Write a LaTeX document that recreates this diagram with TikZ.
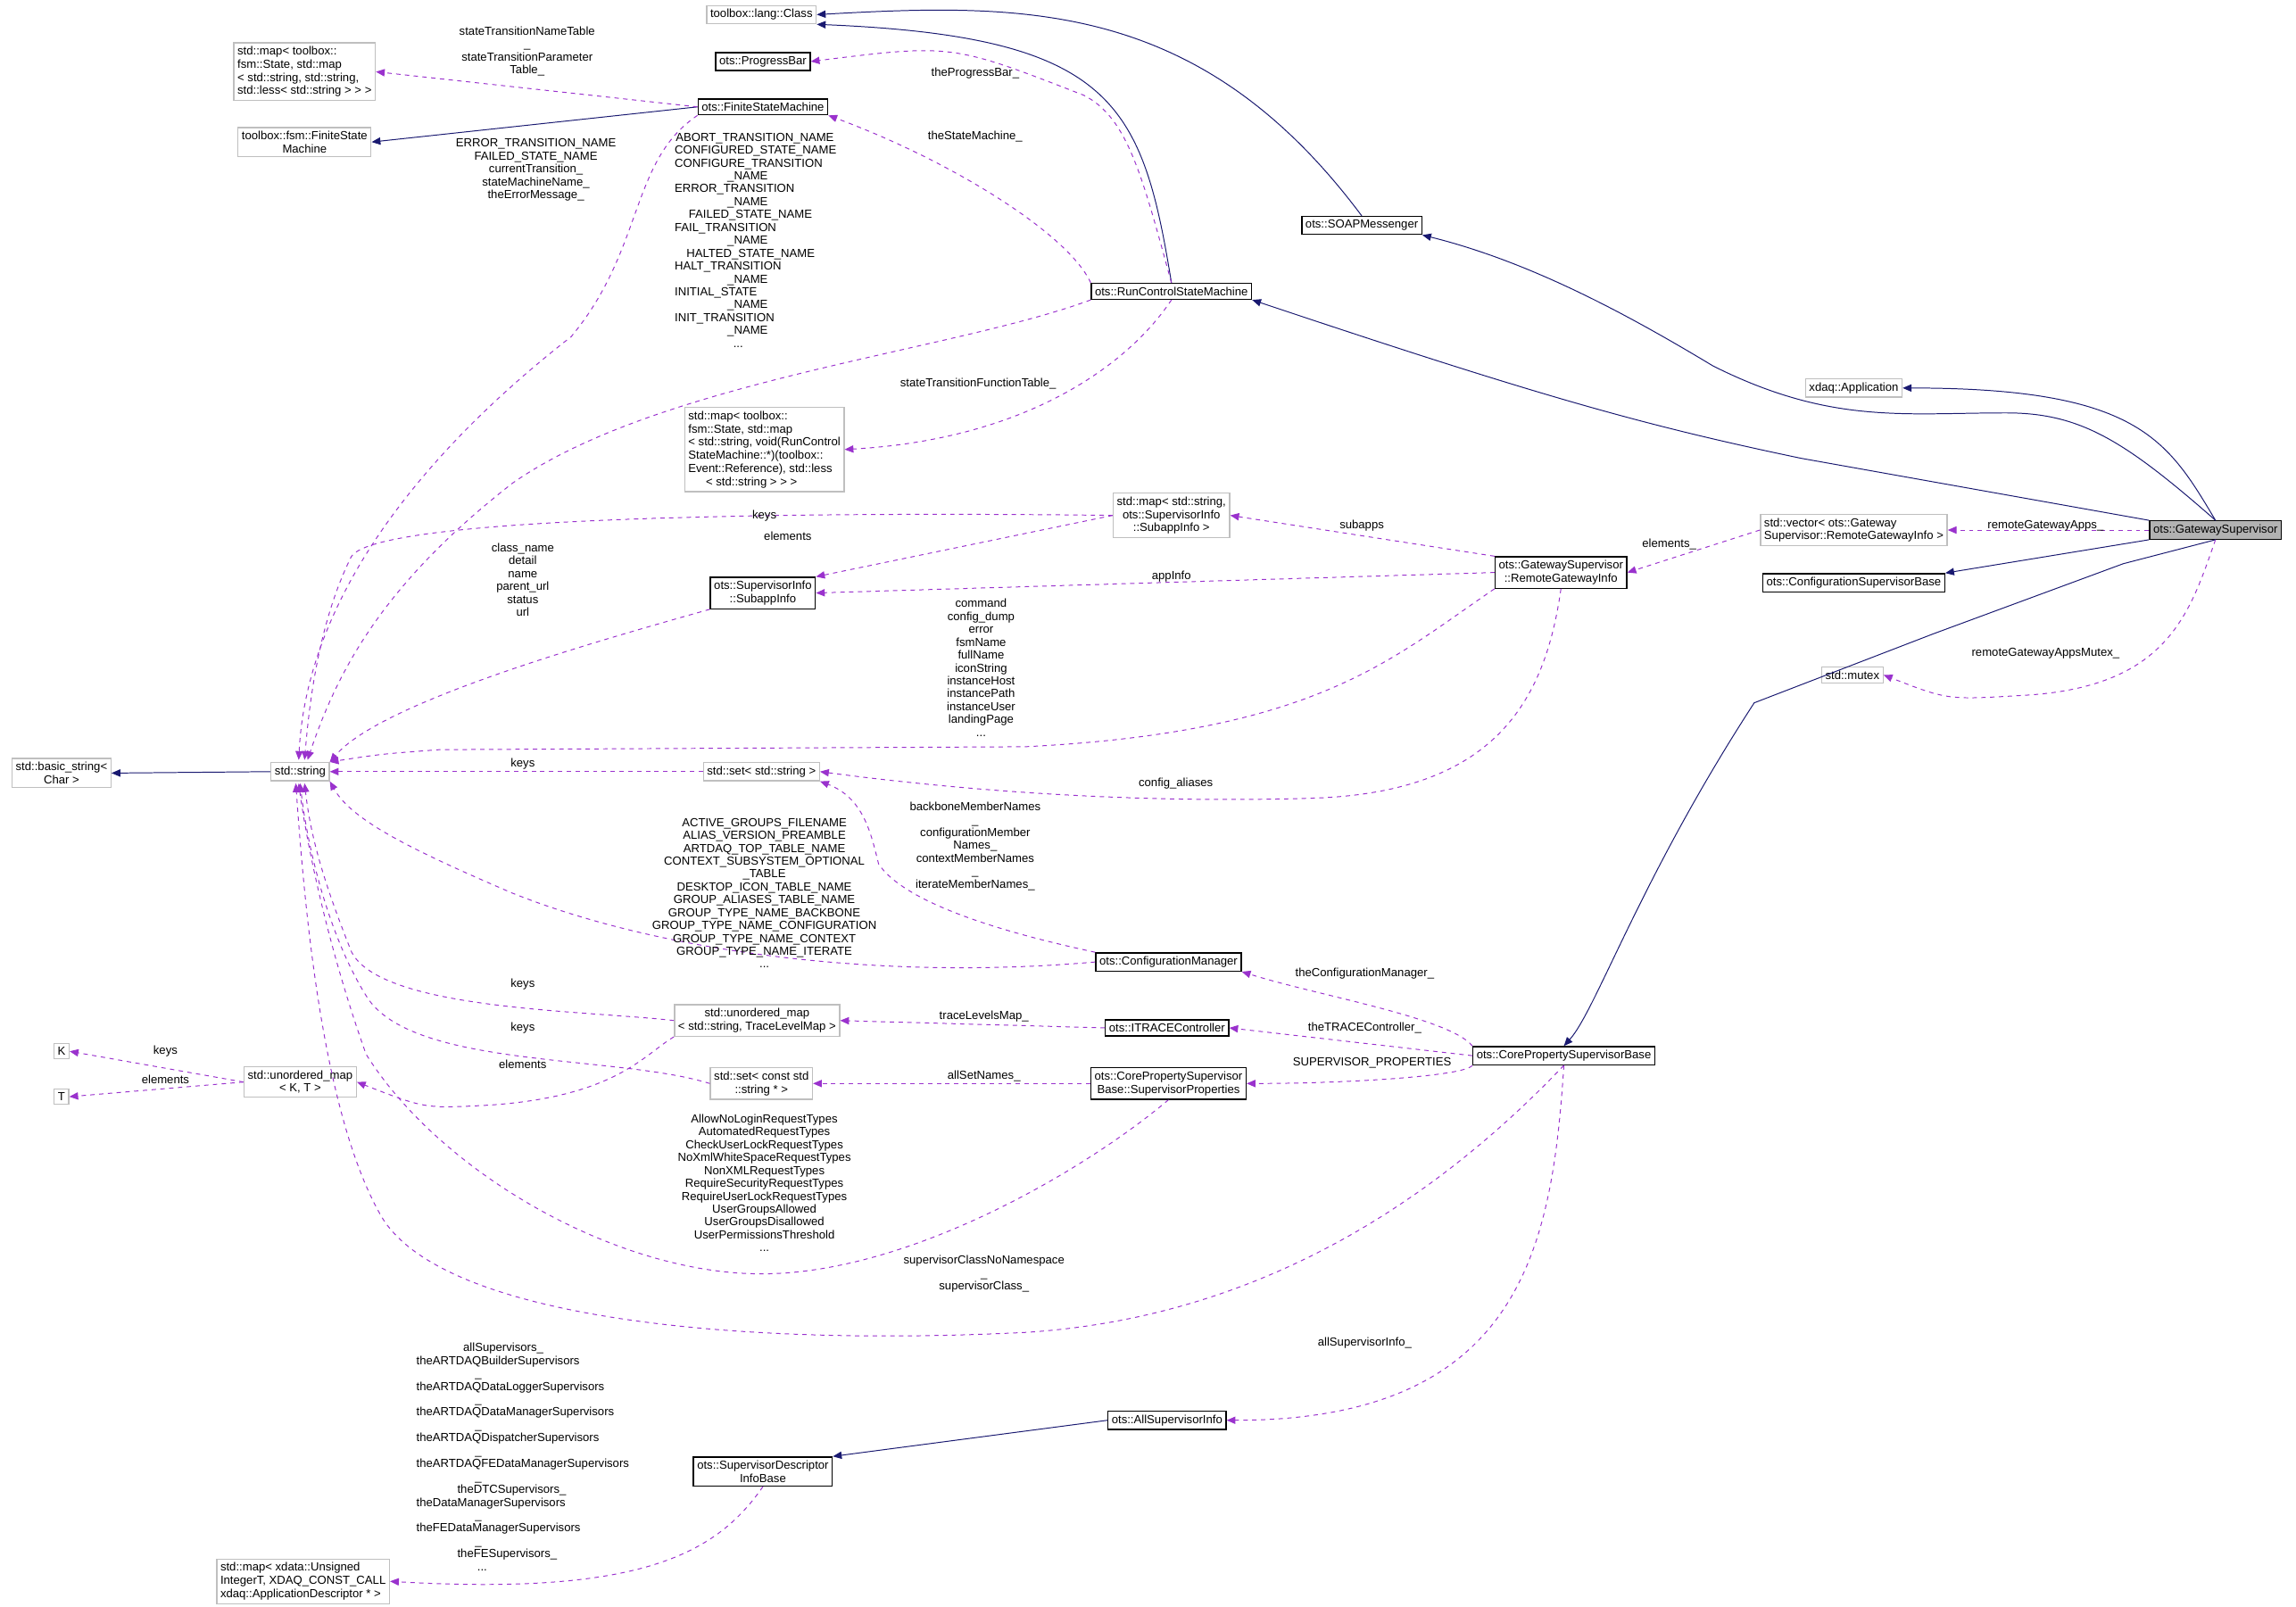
\documentclass[tikz,border=0pt]{standalone}
\usepackage{fontspec}
\setmainfont{Liberation Sans}
\usepackage{xcolor}
\usetikzlibrary{arrows.meta,positioning}
\definecolor{inhcol}{HTML}{191970}
\definecolor{usecol}{HTML}{9A32CD}
\tikzset{
  cls/.style={draw=black,thick,fill=white,inner sep=2.5pt,align=center,font=\fontsize{8}{9}\selectfont},
  ext/.style={draw=black!25,thick,fill=white,inner sep=2.5pt,align=left,font=\fontsize{8}{9}\selectfont},
  inh/.style={draw=inhcol,semithick,-{Triangle[length=6pt,width=5pt]}},
  use/.style={draw=usecol,semithick,dashed,-{Triangle[length=6pt,width=5pt]}},
  lbl/.style={align=center,inner sep=0pt,font=\fontsize{8}{8.8}\selectfont}
}
\begin{document}
\begin{tikzpicture}[x=1pt,y=-1pt]
\useasboundingbox (0,0) rectangle (1568,1097);
  % classes
  \node[ext] (lang) at (520,10) {toolbox::lang::Class};
  \node[cls] (pbar) at (521,42) {ots::ProgressBar};
  \node[cls] (fsm) at (521,73) {ots::FiniteStateMachine};
  \node[ext] (nametab) at (208,49) {std::map\textless{} toolbox::\\fsm::State, std::map\\\textless{} std::string, std::string,\\ std::less\textless{} std::string \textgreater{} \textgreater{} \textgreater};
  \node[ext,align=center] (tbfsm) at (208,97) {toolbox::fsm::FiniteState\\Machine};
  \node[cls] (soap) at (930,154) {ots::SOAPMessenger};
  \node[cls] (rcsm) at (800,199) {ots::RunControlStateMachine};
  \node[ext] (xapp) at (1266,265) {xdaq::Application};
  \node[cls,fill=black!30] (gws) at (1513,362) {ots::GatewaySupervisor};
  \node[ext] (vec) at (1266,362) {std::vector\textless{} ots::Gateway\\Supervisor::RemoteGatewayInfo \textgreater};
  \node[cls] (csb) at (1266,398) {ots::ConfigurationSupervisorBase};
  \node[ext] (mtx) at (1265,461) {std::mutex};
  \node[ext] (functab) at (522,307) {std::map\textless{} toolbox::\\fsm::State, std::map\\\textless{} std::string, void(RunControl\\StateMachine::*)(toolbox::\\Event::Reference), std::less\\\hspace*{1.5em}\textless{} std::string \textgreater{} \textgreater{} \textgreater};
  \node[ext,align=center] (submap) at (800,352) {std::map\textless{} std::string,\\ots::SupervisorInfo\\::SubappInfo \textgreater};
  \node[cls] (rgi) at (1066,391) {ots::GatewaySupervisor\\::RemoteGatewayInfo};
  \node[cls] (sub) at (521,405) {ots::SupervisorInfo\\::SubappInfo};
  \node[ext,align=center] (bstr) at (42,528) {std::basic\_string\textless\\Char \textgreater};
  \node[ext] (str) at (205,527) {std::string};
  \node[ext] (sset) at (520,527) {std::set\textless{} std::string \textgreater};
  \node[cls] (cfgm) at (798,657) {ots::ConfigurationManager};
  \node[ext,align=center] (tlmap) at (517,697) {std::unordered\_map\\\textless{} std::string, TraceLevelMap \textgreater};
  \node[cls] (itrace) at (797,702) {ots::ITRACEController};
  \node[cls] (cpsb) at (1068,721) {ots::CorePropertySupervisorBase};
  \node[ext,align=center] (ukt) at (205,739) {std::unordered\_map\\\textless{} K, T \textgreater};
  \node[ext] (kk) at (42,718) {K};
  \node[ext] (tt) at (42,749) {T};
  \node[ext,align=center] (cset) at (520,740) {std::set\textless{} const std\\::string * \textgreater};
  \node[cls] (sprop) at (798,740) {ots::CorePropertySupervisor\\Base::SupervisorProperties};
  \node[cls] (asi) at (797,970) {ots::AllSupervisorInfo};
  \node[cls] (sdib) at (521,1005) {ots::SupervisorDescriptor\\InfoBase};
  \node[ext] (appmap) at (207,1080) {std::map\textless{} xdata::Unsigned\\IntegerT, XDAQ\_CONST\_CALL\\ xdaq::ApplicationDescriptor * \textgreater};

  % inheritance
  \draw[inh] (soap.north) .. controls (820,0) and (700,2) .. (lang.east);
  \draw[inh] (rcsm.north) .. controls (780,70) and (760,25) .. (lang.south east);
  \draw[inh] (fsm.west) -- (tbfsm.east);
  \draw[inh] (gws.north) .. controls (1450,300) and (1420,282) .. (1370,282)
    .. controls (1300,282) and (1250,290) .. (1170,250) .. controls (1120,220) and (1050,180) .. (soap.south east);
  \draw[inh] (gws.north west) -- (1230,313) .. controls (1120,290) and (1050,270) .. (rcsm.south east);
  \draw[inh] (gws.north) .. controls (1480,300) and (1460,265) .. (xapp.east);
  \draw[inh] (gws.south west) -- (csb.north east);
  \draw[inh] (gws.south) -- (1450,385) -- (1320,433) -- (1198,480) .. controls (1120,600) and (1090,690) .. (cpsb.north);
  \draw[inh] (str.west) -- (bstr.east);
  \draw[inh] (asi.west) -- (sdib.north east);

  % usage
  \draw[use] (fsm.west) -- (nametab.east);
  \draw[use] (fsm.south west) .. controls (430,110) and (440,170) .. (390,230)
    .. controls (300,300) and (210,400) .. (204,519);
  \draw[use] (rcsm.north) .. controls (780,120) and (770,80) .. (740,65) .. controls (650,30) .. (pbar.east);
  \draw[use] (rcsm.north west) .. controls (730,160) and (650,110) .. (fsm.south east);
  \draw[use] (rcsm.south west) .. controls (650,240) and (450,260) .. (350,330)
    .. controls (260,400) and (230,460) .. (210,519);
  \draw[use] (rcsm.south) .. controls (770,250) and (700,300) .. (functab.east);
  \draw[use] (submap.west) .. controls (600,350) and (260,350) .. (240,380) .. controls (220,420) and (212,470) .. (208,519);
  \draw[use] (submap.west) -- (sub.north east);
  \draw[use] (rgi.north west) -- (submap.east);
  \draw[use] (rgi.west) -- (sub.east);
  \draw[use] (rgi.south west) .. controls (950,450) and (900,500) .. (700,510) -- (300,512) .. controls (260,515) .. (str.north east);
  \draw[use] (rgi.south) .. controls (1055,480) and (1020,540) .. (900,545) .. controls (750,550) and (620,535) .. (sset.east);
  \draw[use] (vec.west) -- (rgi.east);
  \draw[use] (gws.west) -- (vec.east);
  \draw[use] (gws.south) .. controls (1495,420) and (1480,470) .. (1380,475) .. controls (1330,478) .. (mtx.east);
  \draw[use] (sub.south west) .. controls (400,440) and (260,480) .. (str.north east);
  \draw[use] (sset.west) -- (str.east);
  \draw[use] (cfgm.west) .. controls (600,670) and (450,650) .. (350,610) .. controls (280,580) and (240,560) .. (str.south east);
  \draw[use] (cfgm.north west) .. controls (700,640) and (620,620) .. (600,590) .. controls (595,570) and (590,545) .. (sset.south east);
  \draw[use] (tlmap.west) .. controls (400,690) and (260,690) .. (240,650) .. controls (220,600) and (212,570) .. (208,535);
  \draw[use] (tlmap.south west) .. controls (440,720) and (420,750) .. (330,755) .. controls (290,757) .. (ukt.east);
  \draw[use] (cset.west) .. controls (420,720) and (280,730) .. (250,680) .. controls (225,640) and (210,580) .. (205,535);
  \draw[use] (ukt.west) -- (kk.east);
  \draw[use] (ukt.west) -- (tt.east);
  \draw[use] (itrace.west) -- (tlmap.east);
  \draw[use] (sprop.west) -- (cset.east);
  \draw[use] (sprop.south) .. controls (740,800) and (620,870) .. (520,870) .. controls (420,870) and (300,800) .. (250,720)
    .. controls (225,650) and (210,580) .. (204,535);
  \draw[use] (cpsb.north west) .. controls (990,695) and (900,680) .. (cfgm.south east);
  \draw[use] (cpsb.west) -- (itrace.east);
  \draw[use] (cpsb.south west) .. controls (1000,735) and (920,740) .. (sprop.east);
  \draw[use] (cpsb.south) .. controls (980,820) and (860,900) .. (700,910) .. controls (500,920) and (300,900) .. (260,830)
    .. controls (220,760) and (208,620) .. (202,535);
  \draw[use] (cpsb.south) .. controls (1060,850) and (1040,970) .. (asi.east);
  \draw[use] (sdib.south) .. controls (490,1060) and (440,1090) .. (appmap.east);

  % labels
  \node[lbl] (l1) at (360,35) {stateTransitionNameTable\\\_\\stateTransitionParameter\\Table\_};
  \node[lbl] (l2) at (366,116) {ERROR\_TRANSITION\_NAME\\FAILED\_STATE\_NAME\\currentTransition\_\\stateMachineName\_\\theErrorMessage\_};
  \node[lbl] (l3) at (666,50) {theProgressBar\_};
  \node[lbl] (l4) at (666,93) {theStateMachine\_};
  \node[lbl,align=left] (l5) at (516,164) {\hspace*{0.1em}ABORT\_TRANSITION\_NAME\\CONFIGURED\_STATE\_NAME\\CONFIGURE\_TRANSITION\\\hspace*{4.5em}\_NAME\\ERROR\_TRANSITION\\\hspace*{4.5em}\_NAME\\\hspace*{1.2em}FAILED\_STATE\_NAME\\FAIL\_TRANSITION\\\hspace*{4.5em}\_NAME\\\hspace*{1em}HALTED\_STATE\_NAME\\HALT\_TRANSITION\\\hspace*{4.5em}\_NAME\\INITIAL\_STATE\\\hspace*{4.5em}\_NAME\\INIT\_TRANSITION\\\hspace*{4.5em}\_NAME\\\hspace*{5em}...};
  \node[lbl] (l6) at (668,262) {stateTransitionFunctionTable\_};
  \node[lbl] (l7) at (522,352) {keys};
  \node[lbl] (l8) at (538,366) {elements};
  \node[lbl] (l9) at (930,359) {subapps};
  \node[lbl] (l10) at (800,394) {appInfo};
  \node[lbl] (l11) at (670,456) {command\\config\_dump\\error\\fsmName\\fullName\\iconString\\instanceHost\\instancePath\\instanceUser\\landingPage\\...};
  \node[lbl] (l12) at (803,535) {config\_aliases};
  \node[lbl] (l13) at (1140,372) {elements\_};
  \node[lbl] (l14) at (1397,359) {remoteGatewayApps\_};
  \node[lbl] (l15) at (1397,446) {remoteGatewayAppsMutex\_};
  \node[lbl] (l16) at (357,396) {class\_name\\detail\\name\\parent\_url\\status\\url};
  \node[lbl] (l17) at (357,522) {keys};
  \node[lbl] (l18) at (522,610) {ACTIVE\_GROUPS\_FILENAME\\ALIAS\_VERSION\_PREAMBLE\\ARTDAQ\_TOP\_TABLE\_NAME\\CONTEXT\_SUBSYSTEM\_OPTIONAL\\\_TABLE\\DESKTOP\_ICON\_TABLE\_NAME\\GROUP\_ALIASES\_TABLE\_NAME\\GROUP\_TYPE\_NAME\_BACKBONE\\GROUP\_TYPE\_NAME\_CONFIGURATION\\GROUP\_TYPE\_NAME\_CONTEXT\\GROUP\_TYPE\_NAME\_ITERATE\\...};
  \node[lbl] (l19) at (666,578) {backboneMemberNames\\\_\\configurationMember\\Names\_\\contextMemberNames\\\_\\iterateMemberNames\_};
  \node[lbl] (l20) at (357,672) {keys};
  \node[lbl] (l21) at (357,702) {keys};
  \node[lbl] (l22) at (357,727) {elements};
  \node[lbl] (l23) at (113,718) {keys};
  \node[lbl] (l24) at (113,737) {elements};
  \node[lbl] (l25) at (672,694) {traceLevelsMap\_};
  \node[lbl] (l26) at (672,735) {allSetNames\_};
  \node[lbl] (l27) at (522,808) {AllowNoLoginRequestTypes\\AutomatedRequestTypes\\CheckUserLockRequestTypes\\NoXmlWhiteSpaceRequestTypes\\NonXMLRequestTypes\\RequireSecurityRequestTypes\\RequireUserLockRequestTypes\\UserGroupsAllowed\\UserGroupsDisallowed\\UserPermissionsThreshold\\...};
  \node[lbl] (l28) at (932,665) {theConfigurationManager\_};
  \node[lbl] (l29) at (932,702) {theTRACEController\_};
  \node[lbl] (l30) at (937,726) {SUPERVISOR\_PROPERTIES};
  \node[lbl] (l31) at (672,870) {supervisorClassNoNamespace\\\_\\supervisorClass\_};
  \node[lbl] (l32) at (932,917) {allSupervisorInfo\_};
  \node[lbl,align=left] (l33) at (357,995) {\hspace*{4em}allSupervisors\_\\theARTDAQBuilderSupervisors\\\hspace*{5em}\_\\theARTDAQDataLoggerSupervisors\\\hspace*{5em}\_\\theARTDAQDataManagerSupervisors\\\hspace*{5em}\_\\theARTDAQDispatcherSupervisors\\\hspace*{5em}\_\\theARTDAQFEDataManagerSupervisors\\\hspace*{5em}\_\\\hspace*{3.5em}theDTCSupervisors\_\\theDataManagerSupervisors\\\hspace*{5em}\_\\theFEDataManagerSupervisors\\\hspace*{5em}\_\\\hspace*{3.5em}theFESupervisors\_\\\hspace*{5.2em}...};
\end{tikzpicture}
\end{document}
